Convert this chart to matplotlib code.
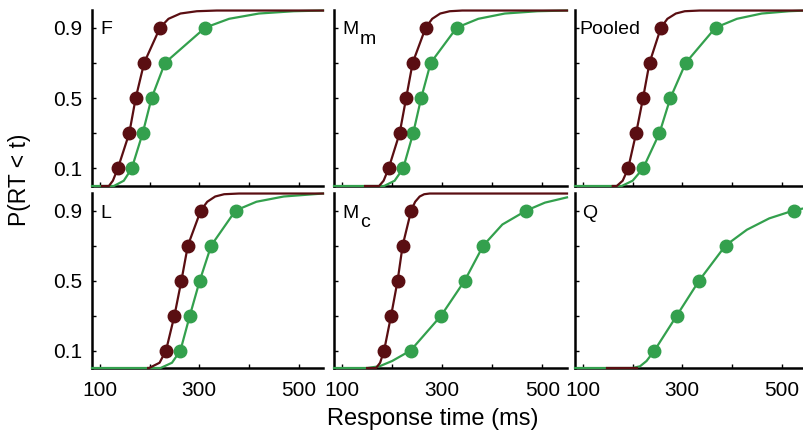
import matplotlib.pyplot as plt

plt.rcParams['font.family'] = ['Liberation Sans', 'DejaVu Sans']

DARK = '#5a0e12'
GREEN = '#33a04d'

quantiles = [0.1, 0.3, 0.5, 0.7, 0.9]

panels = ['F', 'Mm', 'Pooled', 'L', 'Mc', 'Q']
label_main = ['F', 'M', 'Pooled', 'L', 'M', 'Q']
label_sub = ['', 'm', '', '', 'c', '']

# quantile RTs (ms) per panel
red_q = {
    'F': [136, 159, 172, 189, 221],
    'Mm': [193, 215, 228, 241, 267],
    'Pooled': [191, 207, 221, 234, 257],
    'L': [233, 250, 264, 277, 303],
    'Mc': [184, 198, 211, 221, 238],
}
green_q = {
    'F': [164, 186, 204, 231, 312],
    'Mm': [222, 242, 258, 277, 329],
    'Pooled': [221, 254, 276, 307, 367],
    'L': [262, 281, 301, 324, 373],
    'Mc': [237, 298, 345, 382, 468],
    'Q': [244, 289, 334, 387, 524],
}

# full CDF curves: times (ms) and probabilities
red_p = [0, 0, 0.03, 0.1, 0.3, 0.5, 0.7, 0.9, 0.95, 0.98, 0.993, 0.997, 0.997]
red_t = {
    'F': [104, 118, 126, 136, 159, 172, 189, 221, 238, 262, 295, 335, 549],
    'Mm': [146, 174, 183, 193, 215, 228, 241, 267, 280, 296, 315, 340, 549],
    'Pooled': [160, 168, 180, 191, 207, 221, 234, 257, 270, 287, 305, 335, 549],
    'L': [197, 199, 220, 233, 250, 264, 277, 303, 316, 332, 350, 380, 549],
    'Mc': [150, 168, 176, 184, 198, 211, 221, 238, 246, 255, 264, 275, 549],
}
q_red_t = [148, 208]
q_red_p = [0, 0]

green_p = [0, 0, 0.03, 0.1, 0.3, 0.5, 0.7, 0.9, 0.95, 0.98, 0.993, 0.997]
green_t = {
    'F': [84, 128, 148, 164, 186, 204, 231, 312, 360, 420, 490, 549],
    'Mm': [84, 184, 205, 222, 242, 258, 277, 329, 372, 425, 490, 549],
    'Pooled': [84, 178, 200, 221, 254, 276, 307, 367, 410, 460, 515, 549],
    'L': [84, 222, 245, 262, 281, 301, 324, 373, 415, 470, 530, 549],
}

mc_green_t = [84, 150, 175, 200, 237, 298, 345, 382, 420, 468, 505, 549]
mc_green_p = [0, 0, 0.01, 0.04, 0.1, 0.3, 0.5, 0.7, 0.82, 0.9, 0.945, 0.975]
q_green_t = [84, 200, 215, 228, 244, 289, 334, 387, 430, 475, 524, 549]
q_green_p = [0, 0, 0.01, 0.04, 0.1, 0.3, 0.5, 0.7, 0.79, 0.855, 0.9, 0.915]

fig = plt.figure(figsize=(8.04, 4.34), dpi=100)
H = 434.0
W = 804.0
cols = [(92, 231), (334, 233), (575, 231)]
rows = [(10, 176), (193, 175)]
label_x = [8, 8, 4, 8, 8, 7]

for i, name in enumerate(panels):
    r, c = divmod(i, 3)
    x0, w = cols[c]
    y0, h = rows[r]
    ax = fig.add_axes([x0 / W, (H - y0 - h) / H, w / W, h / H])

    for s in ['top', 'right']:
        ax.spines[s].set_visible(False)
    for s in ['left', 'bottom']:
        ax.spines[s].set_linewidth(1.8)
        ax.spines[s].set_zorder(1)

    if name == 'Mc':
        ax.plot(mc_green_t, mc_green_p, color=GREEN, lw=1.6, zorder=2, clip_on=False)
    elif name == 'Q':
        ax.plot(q_green_t, q_green_p, color=GREEN, lw=1.6, zorder=2, clip_on=False)
    else:
        ax.plot(green_t[name], green_p, color=GREEN, lw=1.6, zorder=2, clip_on=False)
    ax.plot(green_q[name], quantiles, 'o', color=GREEN, ms=9, zorder=3)

    if name in red_q:
        ax.plot(red_t[name], red_p, color=DARK, lw=1.6, zorder=4, clip_on=False)
        ax.plot(red_q[name], quantiles, 'o', color=DARK, ms=9, zorder=5)
    else:
        ax.plot(q_red_t, q_red_p, color=DARK, lw=1.6, zorder=4, clip_on=False)

    ax.set_xlim(84, 549)
    ax.set_ylim(0, 1.0)

    ax.set_xticks([100, 200, 300, 400, 500])
    ax.set_yticks([0.1, 0.3, 0.5, 0.7, 0.9])
    ax.tick_params(direction='in', length=3, width=1, labelsize=15)
    ax.tick_params(axis='x', pad=9)
    ax.tick_params(axis='y', pad=7)
    if r == 1:
        ax.set_xticklabels(['100', '', '300', '', '500'])
    else:
        ax.set_xticklabels([])
    if c == 0:
        ax.set_yticklabels(['0.1', '', '0.5', '', '0.9'])
    else:
        ax.set_yticklabels([])

    lx = (x0 + label_x[i]) / W
    ly = 1 - (y0 + 20) / H
    fig.text(lx, ly, label_main[i], fontsize=14, ha='left', va='center')
    if label_sub[i]:
        fig.text(lx + 18 / W, ly - 9 / H, label_sub[i], fontsize=14,
                 ha='left', va='center')

fig.text(433 / W, 1 - 419 / H, 'Response time (ms)', fontsize=17,
         ha='center', va='center')
fig.text(20 / W, 1 - 180 / H, 'P(RT < t)', fontsize=16.5, rotation=90,
         ha='center', va='center')

fig.savefig('out.png', dpi=100)
